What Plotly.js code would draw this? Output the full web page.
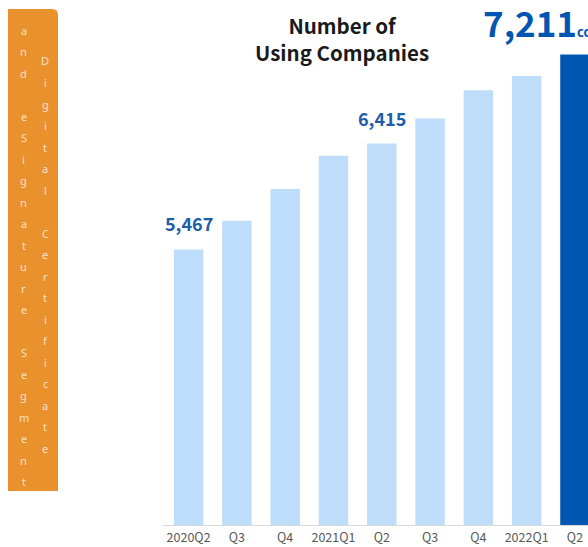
<!DOCTYPE html>
<html><head><meta charset="utf-8">
<script src="https://cdn.plot.ly/plotly-3.0.1.min.js"></script>
<style>html,body{margin:0;padding:0;background:#fff;overflow:hidden}#chart{width:588px;height:547px}</style>
</head><body><div id="chart"></div>
<script>
const quarters = ["2020Q2","2020Q3","2020Q4","2021Q1","2021Q2","2021Q3","2021Q4","2022Q1","2022Q2"];
const tickLabels = ["2020Q2","Q3","Q4","2021Q1","Q2","Q3","Q4","2022Q1","Q2"];
const companies = [5467, 5723, 6007, 6305, 6415, 6640, 6893, 7019, 7211];
const labeledQuarters = ["2020Q2","2021Q2"];
const chartTitle = "Number of<br>Using Companies";
const unitText = "companies";
const segmentColumns = ["and eSignature Segment", "Digital Certificate"];

const W = 588, H = 547, ML = 163, MR = 0, MT = 0, MB = 22;
const PW = W - ML - MR, PH = H - MT - MB;
const px2X = p => (p - ML) / PW;
const px2Y = p => 1 - (p - MT) / PH;

const lightBlue = '#BEDDFA', darkBlue = '#0056B0', labelBlue = '#1E5EA8';
const last = quarters.length - 1;
const barColors = quarters.map((q, i) => i === last ? darkBlue : lightBlue);

const fmt = v => v.toLocaleString('en-US');
const cjk = '"Noto Sans CJK JP", "Noto Sans", sans-serif';

const annotations = [];
annotations.push({
  xref: 'paper', yref: 'paper', x: px2X(342), y: px2Y(8), xanchor: 'center', yanchor: 'top',
  text: chartTitle, showarrow: false, align: 'center',
  font: {family: cjk, size: 20.5, weight: 'bold', color: '#1a1a1a'}
});
quarters.forEach((q, i) => {
  if (labeledQuarters.includes(q)) {
    annotations.push({
      x: q, y: companies[i], xref: 'x', yref: 'y', text: fmt(companies[i]),
      showarrow: false, xanchor: 'center', yanchor: 'middle', yshift: 26,
      font: {family: cjk, size: 18, weight: 'bold', color: labelBlue}
    });
  }
});
annotations.push({
  x: quarters[last], y: companies[last], xref: 'x', yref: 'y',
  text: fmt(companies[last]) + '<span style="font-size:13px">' + unitText + '</span>',
  showarrow: false, xanchor: 'left', yanchor: 'middle', xshift: -94, yshift: 33,
  font: {family: cjk, size: 35, weight: 'bold', color: darkBlue}
});

// vertical stacked-letter captions in orange box
const colX = [23.5, 45];
const colStart = [30, 61];
const step = 21.5;
segmentColumns.forEach((s, c) => {
  [...s].forEach((ch, i) => {
    if (ch === ' ') return;
    annotations.push({
      xref: 'paper', yref: 'paper', x: px2X(colX[c]), y: px2Y(colStart[c] + i * step),
      text: ch, showarrow: false, xanchor: 'center', yanchor: 'middle',
      font: {family: 'Noto Sans, sans-serif', size: 11, color: 'rgba(255,245,230,0.82)'}
    });
  });
});

const bx0 = 8, bx1 = 58, by0 = 9, by1 = 491, r = 6;
const P = (x, y) => px2X(x) + ',' + px2Y(y);
const boxPath = 'M ' + P(bx0, by0) + ' L ' + P(bx1 - r, by0) + ' Q ' + P(bx1, by0) + ' ' + P(bx1, by0 + r) +
  ' L ' + P(bx1, by1) + ' L ' + P(bx0, by1) + ' Z';

const trace = {
  type: 'bar', x: quarters, y: companies,
  marker: {color: barColors, line: {width: 0}},
  hoverinfo: 'skip'
};

const layout = {
  width: W, height: H,
  margin: {l: ML, r: MR, t: MT, b: MB, pad: 0},
  paper_bgcolor: '#fff', plot_bgcolor: 'rgba(0,0,0,0)',
  showlegend: false, bargap: 0.39,
  xaxis: {
    type: 'category', range: [-0.53, 8.27], tickvals: quarters, ticktext: tickLabels,
    showline: true, linecolor: '#d9d9d9', linewidth: 1, ticks: '', showgrid: false, zeroline: false,
    tickfont: {family: cjk, size: 12.5, color: '#595959'}, ticklabelstandoff: 1, fixedrange: true
  },
  yaxis: {
    range: [3000, 7700], showgrid: false, zeroline: false, showticklabels: false, ticks: '',
    showline: false, fixedrange: true
  },
  shapes: [{type: 'path', xref: 'paper', yref: 'paper', path: boxPath, fillcolor: '#E8912D', line: {width: 0}, layer: 'below'}],
  annotations: annotations
};

Plotly.newPlot('chart', [trace], layout, {staticPlot: true, displayModeBar: false});
</script>
</body></html>
